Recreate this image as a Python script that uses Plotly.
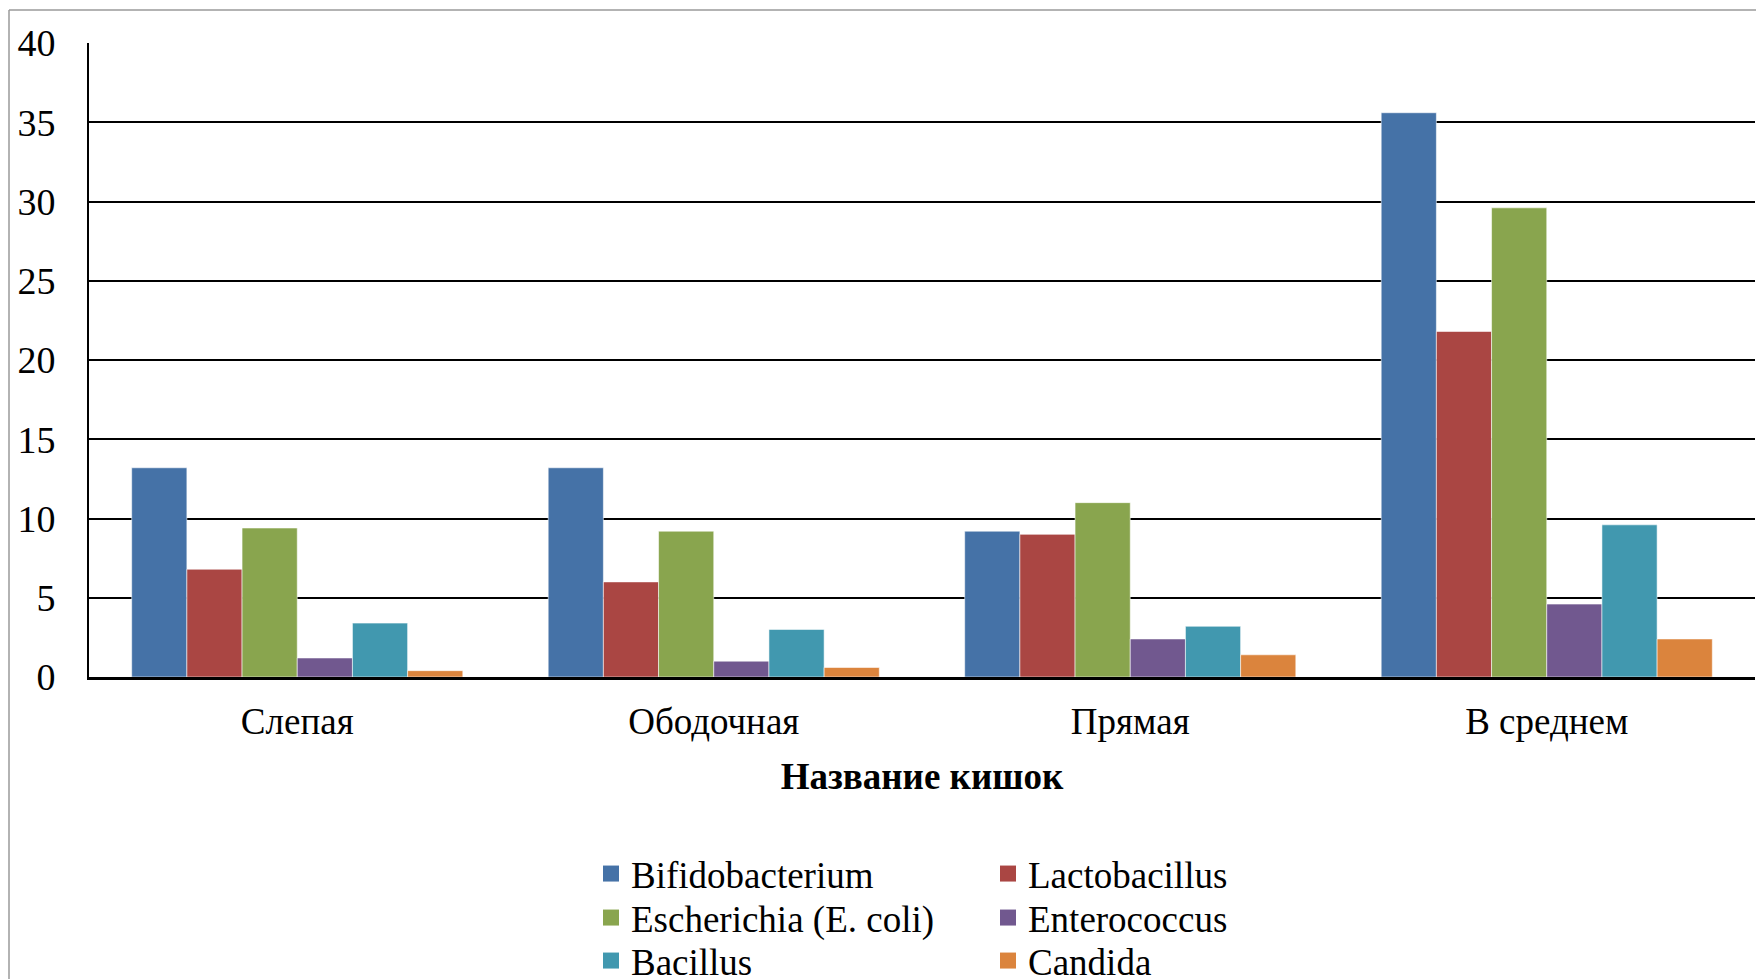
import plotly.graph_objects as go

# ---- data ----
categories = ["Слепая", "Ободочная", "Прямая", "В среднем"]
series_names = ["Bifidobacterium", "Lactobacillus", "Escherichia (E. coli)",
                "Enterococcus", "Bacillus", "Candida"]
bifidobacterium = [13.2, 13.2, 9.2, 35.6]
lactobacillus = [6.8, 6.0, 9.0, 21.8]
escherichia = [9.4, 9.2, 11.0, 29.6]
enterococcus = [1.2, 1.0, 2.4, 4.6]
bacillus = [3.4, 3.0, 3.2, 9.6]
candida = [0.4, 0.6, 1.4, 2.4]
y_tick_values = [0, 5, 10, 15, 20, 25, 30, 35, 40]
x_title = "Название кишок"

series_values = [bifidobacterium, lactobacillus, escherichia,
                 enterococcus, bacillus, candida]
colors = ["#4572A7", "#AA4643", "#89A54E", "#71588F", "#4198AF", "#DB843D"]

# page body has an 8px margin; figure sized to fill the rest of the window
OFF = 8
W, H = 1764 - OFF, 979 - OFF
FONT = "Liberation Serif"
FS = 37

# legend slots (column, row) for each series, page pixels
legend_cols = [591, 988]
legend_rows = [874, 918, 961]
slots = [(0, 0), (1, 0), (0, 1), (1, 1), (0, 2), (1, 2)]

fig = go.Figure()
layout_legends = {}
for i, (name, vals, col) in enumerate(zip(series_names, series_values, colors)):
    lname = "legend" if i == 0 else f"legend{i+1}"
    fig.add_trace(go.Bar(
        x=categories, y=vals, name=name,
        marker=dict(color=col, line=dict(color="rgba(255,255,255,0.55)", width=1)),
        showlegend=False, legendgroup=name,
    ))
    # legend entry with a larger square swatch
    fig.add_trace(go.Scatter(
        x=[None], y=[None], mode="markers", name=name,
        marker=dict(symbol="square", size=16, color=col),
        legend=lname, legendgroup=name, hoverinfo="skip",
    ))
    c, r = slots[i]
    layout_legends[lname] = dict(
        xref="container", yref="container",
        x=(legend_cols[c] - OFF) / W, y=1 - (legend_rows[r] - OFF) / H,
        xanchor="left", yanchor="middle",
        bgcolor="rgba(0,0,0,0)", borderwidth=0,
        font=dict(family=FONT, size=FS, color="black"),
    )

# plot area in page pixels: x 89..1755, y 43..677
L = 89 - OFF
T = 43 - OFF
R = 1764 - 1755
B = 979 - 677
fig.update_layout(
    width=W, height=H,
    margin=dict(l=L, r=R, t=T, b=B, autoexpand=False),
    paper_bgcolor="white", plot_bgcolor="white",
    barmode="group", bargap=0.205, bargroupgap=0,
    font=dict(family=FONT, size=FS, color="black"),
    showlegend=True,
    **layout_legends,
)
fig.update_xaxes(
    showgrid=False, showline=True, linecolor="black", linewidth=2.5,
    ticks="", ticklabelstandoff=10,
    tickfont=dict(family=FONT, size=FS, color="black"),
    title=dict(text="<b>" + x_title + "</b>", standoff=22,
               font=dict(family=FONT, size=FS, color="black")),
)
fig.update_yaxes(
    range=[0, 40], tickvals=y_tick_values,
    showgrid=True, gridcolor="black", gridwidth=2,
    showline=True, linecolor="black", linewidth=2,
    zeroline=False, ticks="", ticklabelstandoff=24,
    tickfont=dict(family=FONT, size=38, color="black"),
)

# outer chart frame (grey), extending beyond the page on right/bottom
pw, ph = W - L - R, H - T - B
fx0 = (9 - OFF - L) / pw
fy1 = (H - B - (10 - OFF)) / ph
fig.add_shape(type="line", xref="paper", yref="paper",
              x0=fx0, x1=fx0, y0=-1, y1=fy1,
              line=dict(color="#9a9a9a", width=1.5), layer="above")
fig.add_shape(type="line", xref="paper", yref="paper",
              x0=fx0, x1=1.2, y0=fy1, y1=fy1,
              line=dict(color="#9a9a9a", width=1.5), layer="above")

fig.write_html("out.html")
